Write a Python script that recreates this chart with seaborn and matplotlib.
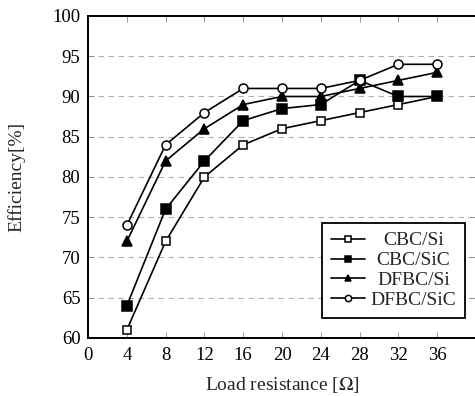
import pandas as pd
import matplotlib
matplotlib.use("Agg")
import matplotlib.pyplot as plt
from matplotlib.transforms import Affine2D
import seaborn as sns

# load resistance [ohm]
resistance = [4, 8, 12, 16, 20, 24, 28, 32, 36]

# efficiency [%] per converter
cbc_si = [61, 72, 80, 84, 86, 87, 88, 89, 90]
cbc_sic = [64, 76, 82, 87, 88.5, 89, 92, 90, 90]
dfbc_si = [72, 82, 86, 89, 90, 90, 91, 92, 93]
dfbc_sic = [74, 84, 88, 91, 91, 91, 92, 94, 94]

series = {
    "CBC/Si": cbc_si,
    "CBC/SiC": cbc_sic,
    "DFBC/Si": dfbc_si,
    "DFBC/SiC": dfbc_sic,
}

# marker look for each series
styles = {
    "CBC/Si": dict(marker="s", markerfacecolor="white", markersize=6),
    "CBC/SiC": dict(marker="s", markerfacecolor="black", markersize=6.5),
    "DFBC/Si": dict(marker="^", markerfacecolor="black", markersize=6.5),
    "DFBC/SiC": dict(marker="o", markerfacecolor="white", markersize=6.5),
}

sns.set_style("ticks")
plt.rcParams["font.family"] = ["Liberation Serif", "DejaVu Serif"]
plt.rcParams["mathtext.fontset"] = "stix"

fig = plt.figure(figsize=(4.75, 3.96), dpi=100)
# right spine sits just past the image edge, like the reference crop
ax = fig.add_axes([0.1853, 0.1465, 0.8168, 0.8131])

for name, vals in series.items():
    df = pd.DataFrame({"R": resistance, "eff": vals})
    sns.lineplot(data=df, x="R", y="eff", ax=ax, color="black", linewidth=1.2,
                 markeredgecolor="black", markeredgewidth=1.1, label=name,
                 **styles[name])

ax.set_xlim(0, 40)
ax.set_ylim(60, 100)
ax.set_xticks(range(0, 37, 4))
ax.set_yticks(range(60, 101, 5))
ax.yaxis.grid(True, linestyle=(0, (5, 4)), color="#b0b0b0", linewidth=0.8)
ax.set_axisbelow(True)

for s in ax.spines.values():
    s.set_visible(True)
    s.set_linewidth(1.4)
    s.set_color("black")
ax.tick_params(direction="in", top=True, right=True, length=4, width=0.6,
               labelsize=13.5, colors="#888888", labelcolor="black")
ax.tick_params(axis="x", pad=6.5)
ax.tick_params(axis="y", pad=5.5)

ax.set_xlabel("Load resistance [$\\Omega$]", fontsize=14, labelpad=8)
ax.set_ylabel("Efficiency[%]", fontsize=14, labelpad=19)

leg = ax.legend(loc="lower right", bbox_to_anchor=(0.9716, 0.0621),
                borderaxespad=0, fontsize=14, frameon=True, fancybox=False,
                edgecolor="black", framealpha=1, handlelength=1.75,
                labelspacing=0.12, handletextpad=0.3, borderpad=0.45,
                markerscale=0.7)
leg.get_frame().set_linewidth(1.3)

# centre the legend labels in their column
fig.canvas.draw()
r = fig.canvas.get_renderer()
widths = [t.get_window_extent(r).width for t in leg.get_texts()]
wmax = max(widths)
for t, w in zip(leg.get_texts(), widths):
    t.set_transform(t.get_transform() + Affine2D().translate((wmax - w) / 2, 0))

plt.savefig("out.png", dpi=100)
